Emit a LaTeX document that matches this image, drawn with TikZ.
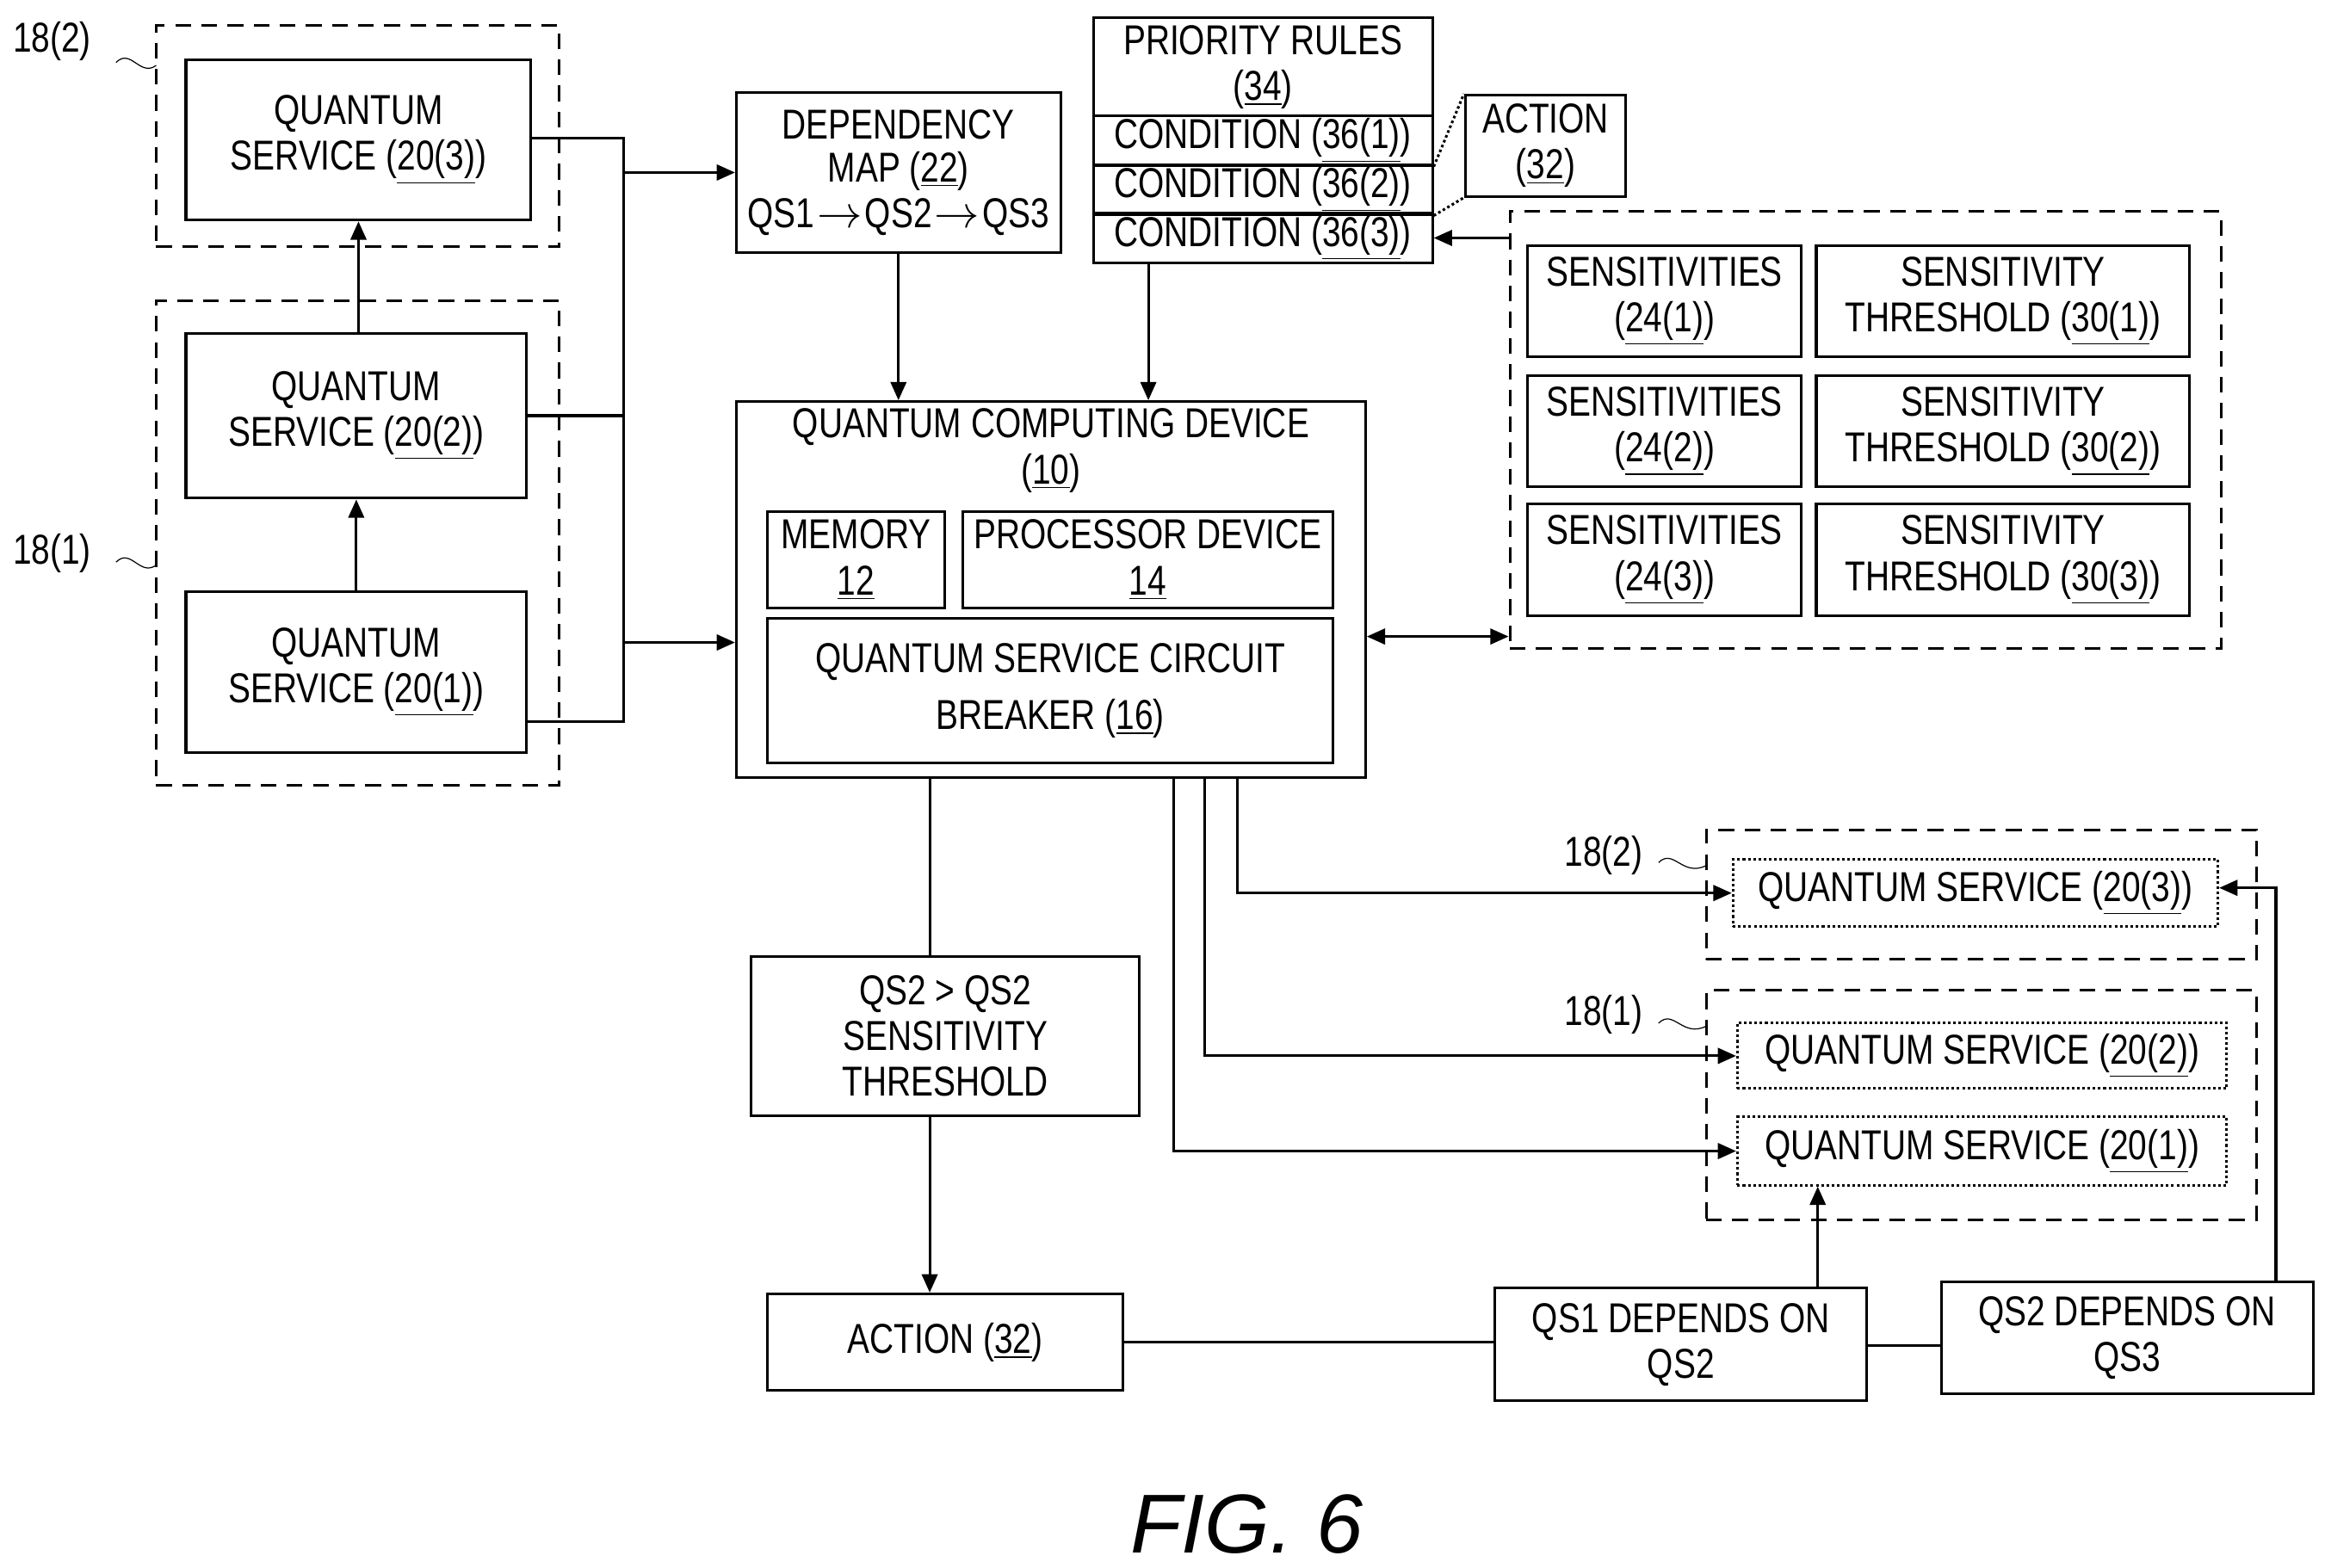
\documentclass[tikz,border=0pt]{standalone}
\usepackage{fontspec}
\setmainfont{Liberation Sans}[FakeStretch=0.8]
\newfontfamily\figfont{Liberation Sans}
\usetikzlibrary{arrows.meta}
\newcommand{\rn}[1]{\underline{#1}}

\tikzset{
  x=0.02cm, y=-0.02cm,
  every node/.style={font=\fontsize{16}{17.5}\selectfont, align=center},
  box/.style 2 args={draw, line width=1pt, inner sep=1pt, minimum width=#1*0.02cm, minimum height=#2*0.02cm},
  group/.style 2 args={box={#1}{#2}, dash pattern=on 6pt off 4pt},
  sub/.style 2 args={box={#1}{#2}, densely dotted},
  link/.style={line width=1pt},
  arr/.style={link, -{Triangle[length=7pt,width=6pt]}},
}

\begin{document}
\begin{tikzpicture}
\useasboundingbox (0,0) rectangle (1563,1054);

% left column of services
\node[group={271}{149}] (grpb) at (240.5,91.5) {};
\node[group={271}{326}] (grpa) at (240.5,365) {};
\node[box={232}{108}] (qsc) at (241,94) {QUANTUM\\SERVICE (\rn{20(3)})};
\node[box={229}{111}] (qsb) at (239.5,279.5) {QUANTUM\\SERVICE (\rn{20(2)})};
\node[box={229}{108}] (qsa) at (239.5,452) {QUANTUM\\SERVICE (\rn{20(1)})};
\node (lblb) at (35,28) {18(2)};
\node (lbla) at (35,372) {18(1)};
\draw[link, thin] (78,42) .. controls (88,32) and (94,52) .. (105,44);
\draw[link, thin] (78,378) .. controls (88,368) and (94,388) .. (105,380);

\draw[arr] (qsa.north) -- (qsb.south);
\draw[arr] (qsb.north -| qsc.south) -- (qsc.south);

% top middle
\node[box={218}{108}, font=\fontsize{16}{16.5}\selectfont] (dep) at (604,116) {DEPENDENCY\\MAP (\rn{22})\\[1pt]QS1\kern1pt$\rightarrow$\kern1pt QS2\kern1pt$\rightarrow$\kern1pt QS3};
\node[box={228}{66}] (prio) at (849,45) {PRIORITY RULES\\(\rn{34})};
\node[box={228}{33}] (conda) at (849,94.5) {CONDITION (\rn{36(1)})};
\node[box={228}{33}] (condb) at (849,127.5) {CONDITION (\rn{36(2)})};
\node[box={228}{33}] (condc) at (849,160) {CONDITION (\rn{36(3)})};
\node[box={108}{68}] (actsm) at (1039,98) {ACTION\\(\rn{32})};
\draw[link, densely dotted] (conda.south east) -- (actsm.north west);
\draw[link, densely dotted] (condb.south east) -- (actsm.south west);

% sensitivities
\node[group={478}{294}] (sens) at (1254,289) {};
\node[box={184}{75}] (sa) at (1119,202.5) {SENSITIVITIES\\(\rn{24(1)})};
\node[box={184}{75}] (sb) at (1119,290) {SENSITIVITIES\\(\rn{24(2)})};
\node[box={184}{75}] (sc) at (1119,376.5) {SENSITIVITIES\\(\rn{24(3)})};
\node[box={251}{75}] (ta) at (1346.5,202.5) {SENSITIVITY\\THRESHOLD (\rn{30(1)})};
\node[box={251}{75}] (tb) at (1346.5,290) {SENSITIVITY\\THRESHOLD (\rn{30(2)})};
\node[box={251}{75}] (tc) at (1346.5,376.5) {SENSITIVITY\\THRESHOLD (\rn{30(3)})};

% quantum computing device
\node[box={423}{253}] (qcd) at (706.5,396.5) {};
\node (qcdl) at (706.5,303) {QUANTUM COMPUTING DEVICE\\(\rn{10})};
\node[box={119}{65}] (mem) at (575.5,376.5) {MEMORY\\\rn{12}};
\node[box={249}{65}] (proc) at (771.5,376.5) {PROCESSOR DEVICE\\\rn{14}};
\node[box={380}{97}] (cb) at (706,464.5) {QUANTUM SERVICE CIRCUIT\\[4pt]BREAKER (\rn{16})};

% bus from services
\coordinate (bus) at (419,0);
\draw[link] (qsc.east |- 0,93) -- (bus |- 0,93) -- (bus |- 0,485) -- (qsa.east |- 0,485);
\draw[link] (qsb.east) -- (bus |- qsb.east);
\draw[arr] (bus |- dep.west) -- (dep.west);
\draw[arr] (bus |- 0,432) -- (qcd.west |- 0,432);

\draw[arr] (dep.south) -- (dep.south |- qcd.north);
\draw[arr] (condc.south -| 772,0) -- (qcd.north -| 772,0);
\draw[arr] (sens.west |- condc.east) -- (condc.east);
\draw[arr, {Triangle[length=7pt,width=6pt]}-{Triangle[length=7pt,width=6pt]}] (qcd.east |- 0,428) -- (sens.west |- 0,428);

% lower part
\node[box={261}{107}] (thr) at (635.5,696.5) {QS2 > QS2\\SENSITIVITY\\THRESHOLD};
\node[box={239}{65}] (act) at (635.5,902.5) {ACTION (\rn{32})};
\node[box={250}{76}] (depa) at (1130,904) {QS1 DEPENDS ON\\QS2};
\node[box={250}{75}] (depb) at (1430,899.5) {QS2 DEPENDS ON\\QS3};
\draw[link] (qcd.south -| 625,0) -- (thr.north -| 625,0);
\draw[arr] (thr.south -| 625,0) -- (act.north -| 625,0);
\draw[link] (act.east) -- (depa.west |- act.east);
\draw[link] (depa.east |- 0,905) -- (depb.west |- 0,905);

% right services
\node[group={370}{87}] (rgrpb) at (1332,601.5) {};
\node[group={370}{154}] (rgrpa) at (1332,743) {};
\node[sub={326}{45}] (rqc) at (1328,600.5) {QUANTUM SERVICE (\rn{20(3)})};
\node[sub={329}{44}] (rqb) at (1332.5,710) {QUANTUM SERVICE (\rn{20(2)})};
\node[sub={329}{46}] (rqa) at (1332.5,774) {QUANTUM SERVICE (\rn{20(1)})};
\node (rlblb) at (1078,575) {18(2)};
\node (rlbla) at (1078,682) {18(1)};
\draw[link, thin] (1115,580) .. controls (1125,570) and (1131,590) .. (1147,582);
\draw[link, thin] (1115,688) .. controls (1125,678) and (1131,698) .. (1147,690);

\coordinate (bc) at (832,603);
\coordinate (bb) at (810,709);
\coordinate (ba) at (789,773);
\draw[arr] (qcd.south -| bc) |- (rqc.west);
\draw[arr] (qcd.south -| bb) |- (rqb.west);
\draw[arr] (qcd.south -| ba) |- (rqa.west);
\draw[arr] (depa.north -| 1222,0) -- (rqa.south -| 1222,0);
\draw[arr] (depb.north -| 1530,0) |- (rqc.east |- 0,597);

\node[font=\figfont\itshape\fontsize{32}{36}\selectfont] (fig) at (838,1025) {FIG. 6};
\end{tikzpicture}
\end{document}
